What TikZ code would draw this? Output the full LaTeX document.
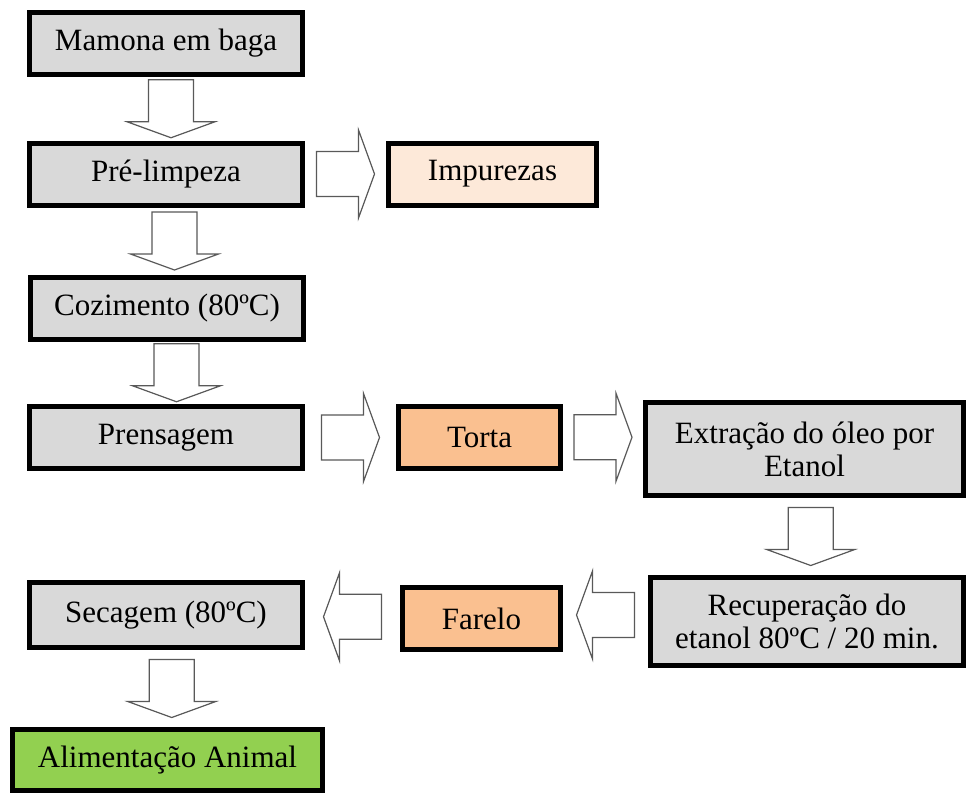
\documentclass[tikz,border=0pt]{standalone}
\usepackage{fontspec}
\setmainfont{Liberation Serif}
\usetikzlibrary{calc}
\definecolor{boxgray}{RGB}{217,217,217}
\definecolor{lightpeach}{RGB}{253,233,217}
\definecolor{peach}{RGB}{250,192,144}
\definecolor{leafgreen}{RGB}{146,208,80}
\tikzset{
  box/.style={draw,line width=5pt,fill=boxgray,minimum width=273pt,minimum height=62pt,inner sep=0pt,align=center,font=\fontsize{31}{33}\selectfont},
  bigarrow/.pic={\draw[draw=black!65,line width=1.2pt,fill=white] (-29,-22.5) -- (13,-22.5) -- (13,-44) -- (29,0) -- (13,44) -- (13,22.5) -- (-29,22.5) -- cycle;}
}
\begin{document}
\begin{tikzpicture}[x=1pt,y=-1pt]
\useasboundingbox[fill=white] (0,0) rectangle (969,795);
\node[box] (mamona) at (166,43.5) {Mamona em baga};
\node[box] (prelimpeza) at (166,174) {Pré-limpeza};
\node[box,fill=lightpeach,minimum width=208pt] (impurezas) at (492.5,174) {Impurezas};
\node[box] (cozimento) at (167,308) {Cozimento (80ºC)};
\node[box] (prensagem) at (166,437.5) {Prensagem};
\node[box,fill=peach,minimum width=162pt] (torta) at (479.5,437.5) {Torta};
\node[box,minimum width=318pt,minimum height=93pt] (extracao) at (804.5,449) {Extração do óleo por\\Etanol};
\node[box,minimum width=313pt,minimum height=88pt] (recuperacao) at (807,621.5) {Recuperação do\\etanol 80ºC / 20 min.};
\node[box,fill=peach,minimum width=158pt] (farelo) at (481.5,618.5) {Farelo};
\node[box,minimum height=65pt] (secagem) at (166,615) {Secagem (80ºC)};
\node[box,fill=leafgreen,minimum width=310pt,minimum height=61pt] (alimentacao) at (167.5,760) {Alimentação Animal};

\pic[rotate=-90] at ($(mamona.south)!.5!(prelimpeza.north)+(5,0)$) {bigarrow};
\pic at ($(prelimpeza.east)!.5!(impurezas.west)$) {bigarrow};
\pic[rotate=-90] at ($(prelimpeza.south)!.5!(cozimento.north)+(8,0)$) {bigarrow};
\pic[rotate=-90] at ($(cozimento.south)!.5!(prensagem.north)+(10,0)$) {bigarrow};
\pic at ($(prensagem.east)!.5!(torta.west)$) {bigarrow};
\pic at ($(torta.east)!.5!(extracao.west)+(0,-6)$) {bigarrow};
\pic[rotate=-90] at ($(extracao.south)!.5!(recuperacao.north)+(5,0)$) {bigarrow};
\pic[rotate=180] at ($(recuperacao.west)!.5!(farelo.east)+(0,-5)$) {bigarrow};
\pic[rotate=180] at ($(farelo.west)!.5!(secagem.east)$) {bigarrow};
\pic[rotate=-90] at ($(secagem.south)!.5!(alimentacao.north)+(5,0)$) {bigarrow};
\end{tikzpicture}
\end{document}
